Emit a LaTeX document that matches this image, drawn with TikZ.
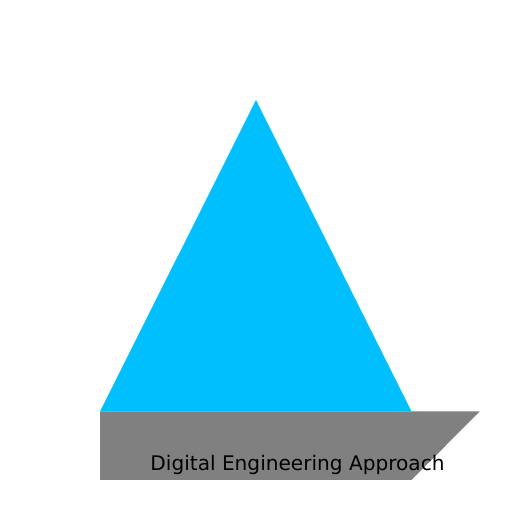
\documentclass[tikz,border=0pt]{standalone}
\usepackage{fontspec}
\setmainfont{DejaVu Sans}
\definecolor{skyfill}{RGB}{0,191,255}
\definecolor{basegray}{RGB}{128,128,128}
\tikzset{
  peak/.style={fill=skyfill, draw=none},
  plinth/.style={fill=basegray, draw=none},
  label/.style={font=\fontsize{20.1}{24}\selectfont, text=black, inner sep=0pt, anchor=base}
}
\begin{document}
\begin{tikzpicture}[x=1pt,y=1pt]
\useasboundingbox (0,0) rectangle (512,512);
\fill[white] (0,0) rectangle (512,512);
\path[peak] (256,412) -- (411.5,100.5) -- (100,100.5) -- cycle;
\path[plinth] (100,100.5) -- (479.5,100.5) -- (411.5,32) -- (100,32) -- cycle;
\node[label] (title) at (297.5,41.5) {Digital Engineering Approach};
\end{tikzpicture}
\end{document}
